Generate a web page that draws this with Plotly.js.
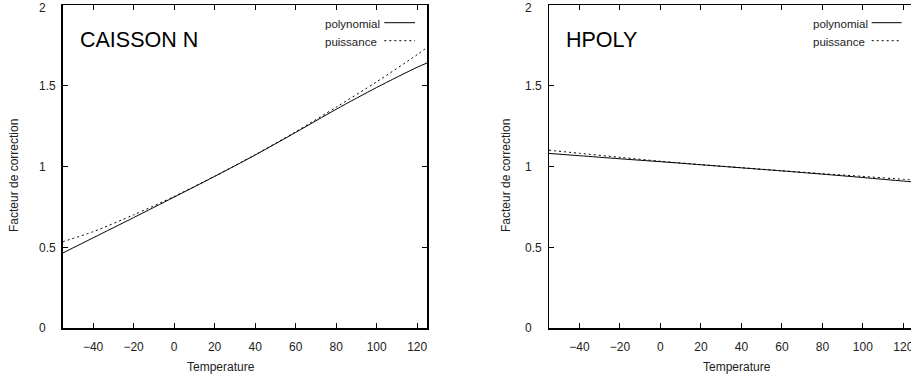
<!DOCTYPE html>
<html>
<head>
<meta charset="utf-8">
<script src="https://cdn.plot.ly/plotly-3.0.1.min.js"></script>
<style>html,body{margin:0;padding:0;background:#fff;}#chart{width:911px;height:381px;}</style>
</head>
<body>
<div id="chart"></div>
<script>
// ---- data ----
const temperature = [-55, -40, -20, 0, 20, 40, 60, 80, 100, 120, 125];
const caissonPolynomial = [0.466, 0.560, 0.685, 0.812, 0.940, 1.072, 1.212, 1.355, 1.490, 1.615, 1.642];
const caissonPuissance  = [0.536, 0.598, 0.702, 0.816, 0.941, 1.074, 1.216, 1.368, 1.525, 1.693, 1.739];
const hpolyPolynomial   = [1.082, 1.068, 1.049, 1.031, 1.012, 0.993, 0.974, 0.954, 0.933, 0.911, 0.906];
const hpolyPuissance    = [1.102, 1.083, 1.058, 1.034, 1.013, 0.994, 0.975, 0.957, 0.940, 0.922, 0.918];
const xTickVals = [-40, -20, 0, 20, 40, 60, 80, 100, 120];
const yTickVals = [0, 0.5, 1, 1.5, 2];
const yTickText = ['0', '0.5', '1', '1.5', '2'];
const panelTitles = ['CAISSON N', 'HPOLY'];
const seriesNames = ['polynomial', 'puissance'];

// ---- layout helpers (pixels -> paper) ----
const W = 911, H = 381;
const px = x => x / W;
const py = y => 1 - y / H;
const FONT = 'Liberation Sans, Arial, sans-serif';
const dotted = '2px,3px';

const lineStyle = dash => ({color: '#000', width: 1, shape: 'spline', smoothing: 0.8, dash: dash || 'solid'});
const traces = [
  {x: temperature, y: caissonPolynomial, xaxis: 'x', yaxis: 'y', mode: 'lines', name: seriesNames[0], line: lineStyle()},
  {x: temperature, y: caissonPuissance, xaxis: 'x', yaxis: 'y', mode: 'lines', name: seriesNames[1], line: lineStyle(dotted)},
  {x: temperature, y: hpolyPolynomial, xaxis: 'x2', yaxis: 'y2', mode: 'lines', name: seriesNames[0], line: lineStyle()},
  {x: temperature, y: hpolyPuissance, xaxis: 'x2', yaxis: 'y2', mode: 'lines', name: seriesNames[1], line: lineStyle(dotted)}
];

const yDom = [py(328.4), py(5)];
const xAxisCommon = {
  tickmode: 'array', tickvals: xTickVals, ticks: 'inside', ticklen: 5, tickcolor: '#000', tickwidth: 1,
  showline: true, linecolor: '#000', linewidth: 1.5, mirror: 'ticks',
  showgrid: false, zeroline: false, tickfont: {family: FONT, size: 12, color: '#222'},
  ticklabelstandoff: 7, ticklabeloverflow: 'allow', fixedrange: true
};
const yAxisCommon = {
  range: [0, 2], tickmode: 'array', tickvals: yTickVals, ticks: 'inside', ticklen: 5, tickcolor: '#000', tickwidth: 1,
  showline: true, linecolor: '#000', linewidth: 1.5, showticklabels: false,
  showgrid: false, zeroline: false, domain: yDom, fixedrange: true
};

const layout = {
  width: W, height: H,
  margin: {l: 0, r: 0, t: 0, b: 0},
  paper_bgcolor: '#fff', plot_bgcolor: '#fff',
  showlegend: false,
  font: {family: FONT, size: 12, color: '#000'},
  xaxis: Object.assign({}, xAxisCommon, {domain: [px(62.7), px(427.3)], range: [-55, 125], anchor: 'y'}),
  yaxis: Object.assign({}, yAxisCommon, {anchor: 'x', mirror: 'ticks'}),
  xaxis2: Object.assign({}, xAxisCommon, {domain: [px(549), 1], range: [-55, -55 + (W - 549) / 2.025], anchor: 'y2'}),
  yaxis2: Object.assign({}, yAxisCommon, {anchor: 'x2', mirror: false}),
  yaxis3: Object.assign({}, yAxisCommon, {overlaying: 'y2', side: 'right', anchor: 'x2', showline: false}),
  annotations: [],
  shapes: []
};

// panel titles
[[78, panelTitles[0]], [564, panelTitles[1]]].forEach(([x, t]) => {
  layout.annotations.push({xref: 'paper', yref: 'paper', x: px(x), y: py(40), xanchor: 'left', yanchor: 'middle',
    text: t, showarrow: false, font: {family: FONT, size: 21.5, color: '#000'}});
});

// axis titles
[[220.5, 14], [737, 506]].forEach(([xc, yl]) => {
  layout.annotations.push({xref: 'paper', yref: 'paper', x: px(xc), y: py(366.7), xanchor: 'center', yanchor: 'middle',
    text: 'Temperature', showarrow: false, font: {family: FONT, size: 12, color: '#222'}});
  layout.annotations.push({xref: 'paper', yref: 'paper', x: px(yl), y: py(176), xanchor: 'center', yanchor: 'middle',
    text: 'Facteur de correction', textangle: -90, showarrow: false, font: {family: FONT, size: 12, color: '#222'}});
});

// y tick labels (left aligned as in the reference)
[['y', 36.5], ['y2', 522.7]].forEach(([yr, xl]) => {
  yTickVals.forEach((v, i) => {
    layout.annotations.push({xref: 'paper', yref: yr, x: px(xl), y: v, xanchor: 'left', yanchor: 'middle',
      yshift: (i === yTickVals.length - 1) ? -2.5 : 0,
      text: yTickText[i], showarrow: false, font: {family: FONT, size: 12, color: '#222'}});
  });
});

// legends (text then sample line)
[[322.5, 384.3, 415], [810.7, 871.7, 901.7]].forEach(([tx, l0, l1]) => {
  [[24, 22.7, null], [42.5, 40.7, dotted]].forEach(([ty, ly, dash], k) => {
    layout.annotations.push({xref: 'paper', yref: 'paper', x: px(tx), y: py(ty), xanchor: 'left', yanchor: 'middle',
      text: seriesNames[k], showarrow: false, font: {family: FONT, size: 11.5, color: '#222'}});
    layout.shapes.push({type: 'line', xref: 'paper', yref: 'paper', x0: px(l0), x1: px(l1), y0: py(ly), y1: py(ly),
      line: {color: '#000', width: 1, dash: dash || 'solid'}});
  });
});

Plotly.newPlot('chart', traces, layout, {displayModeBar: false, staticPlot: true});
</script>
</body>
</html>
